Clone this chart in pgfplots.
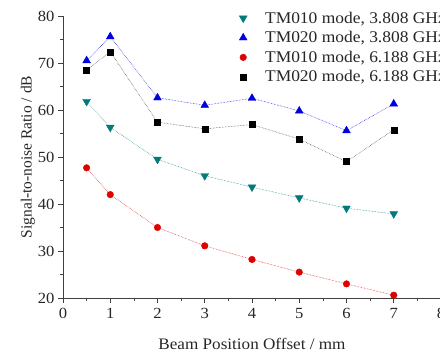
\documentclass[border=0pt]{standalone}
\usepackage{pgfplots}
\pgfplotsset{compat=1.18}
\usepackage{fontspec}
\setmainfont[FakeStretch=1.07]{Liberation Serif}
\newfontfamily\ylabfont{Liberation Serif}
\definecolor{tealc}{RGB}{0,122,122}
\definecolor{bluec}{RGB}{0,0,220}
\definecolor{redc}{RGB}{225,0,0}
\begin{document}
\begin{tikzpicture}[x=1pt,y=1pt]
\clip (0,0) rectangle (440,352);
\begin{axis}[
  scale only axis, width=378pt, height=282pt,
  at={(63pt,54pt)}, anchor=south west,
  xmin=0, xmax=8, ymin=20, ymax=80,
  axis x line=bottom, axis y line=left,
  axis line style={-, line width=0.8pt, black!75},
  xtick={0,1,...,8}, ytick={20,30,...,80},
  minor x tick num=1, minor y tick num=1,
  tick align=outside,
  major tick length=5pt, minor tick length=3pt,
  tick style={black!75, line width=0.7pt},
  /pgf/number format/assume math mode=true,
  ticklabel style={font=\fontsize{15.5}{18}\selectfont, text=black!85},
  xticklabel style={yshift=-2pt},
  xlabel={Beam Position Offset / mm},
  ylabel={\ylabfont Signal-to-noise Ratio / dB},
  xlabel style={font=\fontsize{16}{18}\selectfont, text=black!85, yshift=-12pt},
  ylabel style={font=\fontsize{15.5}{18}\selectfont, text=black!85, yshift=-4pt},
  legend style={draw=none, fill=none, at={(0.458,1.03)}, anchor=north west,
    font=\fontsize{16.3}{18}\selectfont, row sep=2.8pt, text=black!85,
    /tikz/column 1/.style={column sep=16pt}},
  legend cell align=left,
  clip=false,
]
\addplot[forget plot, tealc, densely dotted, line width=0.5pt]
 coordinates {(0.5,61.8)(1,56.3)(2,49.5)(3,46.0)(4,43.6)(5,41.3)(6,39.1)(7,37.9)};
\addplot[forget plot, bluec, densely dotted, line width=0.5pt]
 coordinates {(0.5,70.5)(1,75.6)(2,62.6)(3,61.0)(4,62.5)(5,59.8)(6,55.6)(7,61.3)};
\addplot[forget plot, redc, densely dotted, line width=0.5pt]
 coordinates {(0.5,47.7)(1,42.0)(2,35.0)(3,31.1)(4,28.2)(5,25.5)(6,23.0)(7,20.6)};
\addplot[forget plot, black!80, densely dotted, line width=0.5pt]
 coordinates {(0.5,68.5)(1,72.4)(2,57.4)(3,56.0)(4,56.9)(5,53.8)(6,49.0)(7,55.8)};
\addplot[only marks, mark=triangle*, mark size=4.5pt, mark options={rotate=180, draw=tealc, fill=tealc}]
 coordinates {(0.5,61.8)(1,56.3)(2,49.5)(3,46.0)(4,43.6)(5,41.3)(6,39.1)(7,37.9)};
\addlegendentry{TM010 mode, 3.808 GHz}
\addplot[only marks, mark=triangle*, mark size=4.5pt, mark options={draw=bluec, fill=bluec}]
 coordinates {(0.5,70.5)(1,75.6)(2,62.6)(3,61.0)(4,62.5)(5,59.8)(6,55.6)(7,61.3)};
\addlegendentry{TM020 mode, 3.808 GHz}
\addplot[only marks, mark=*, mark size=3.3pt, mark options={draw=redc, fill=redc}]
 coordinates {(0.5,47.7)(1,42.0)(2,35.0)(3,31.1)(4,28.2)(5,25.5)(6,23.0)(7,20.6)};
\addlegendentry{TM010 mode, 6.188 GHz}
\addplot[only marks, mark=square*, mark size=3pt, mark options={draw=black, fill=black}]
 coordinates {(0.5,68.5)(1,72.4)(2,57.4)(3,56.0)(4,56.9)(5,53.8)(6,49.0)(7,55.8)};
\addlegendentry{TM020 mode, 6.188 GHz}
\end{axis}
\end{tikzpicture}
\end{document}
